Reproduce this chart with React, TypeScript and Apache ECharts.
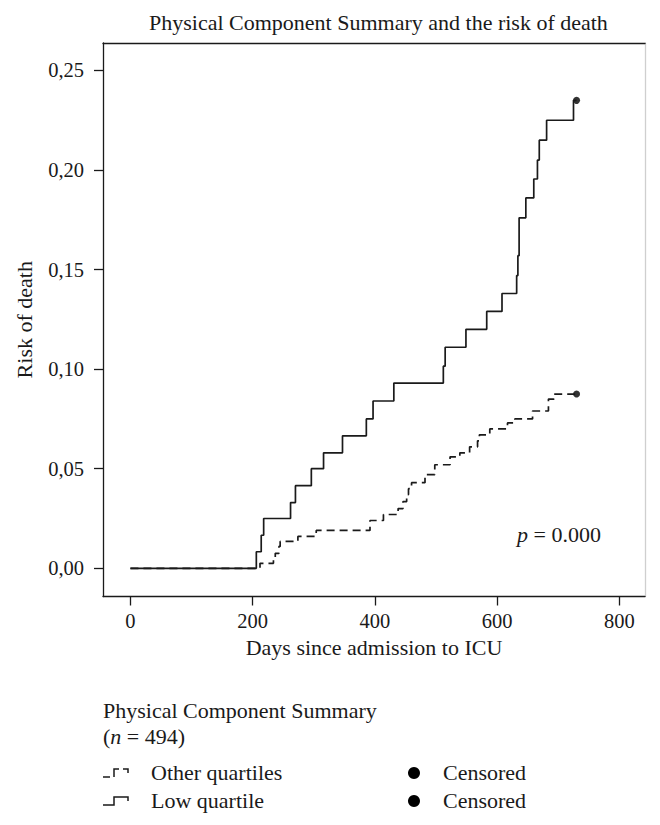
import React, { useEffect, useRef } from "react";
import * as echarts from "echarts";

// Low quartile (solid): day of each step and cumulative risk after it
const lowDays = [0, 206, 214, 218, 262, 270, 296, 316, 347, 386, 397, 431, 512, 515, 549, 583, 608, 632, 634, 636, 647, 660, 666, 669, 681, 725, 730];
const lowRisk = [0, 0.0083, 0.0166, 0.025, 0.033, 0.0415, 0.05, 0.058, 0.0665, 0.075, 0.084, 0.093, 0.1015, 0.111, 0.12, 0.129, 0.138, 0.147, 0.157, 0.176, 0.186, 0.1955, 0.205, 0.215, 0.225, 0.235, 0.235];

// Other quartiles (dashed)
const otherDays = [0, 212, 234, 237, 243, 245, 274, 304, 392, 414, 438, 446, 452, 455, 460, 482, 498, 523, 539, 555, 568, 571, 588, 617, 629, 658, 684, 693, 730];
const otherRisk = [0, 0.0025, 0.005, 0.0075, 0.011, 0.0135, 0.016, 0.019, 0.024, 0.027, 0.03, 0.0335, 0.037, 0.04, 0.043, 0.047, 0.052, 0.056, 0.058, 0.061, 0.064, 0.067, 0.07, 0.073, 0.075, 0.079, 0.085, 0.0875, 0.0875];

// Censored marks
const censorDays = [730, 730];
const censorRisk = [0.0875, 0.235];

const xTicks = [0, 200, 400, 600, 800];
const yTicks = [0, 0.05, 0.1, 0.15, 0.2, 0.25];

const FONT = "Liberation Serif";
const INK = "#1a1a1a";
const FS = 22;
const TICK_FS = 20.5;

export default function App() {
  const ref = useRef<HTMLDivElement>(null);
  useEffect(() => {
    if (!ref.current) return;
    const chart = echarts.init(ref.current, null, { renderer: "svg" });
    const zip = (a: number[], b: number[]) => a.map((v, i) => [v, b[i]]);
    const axisLine = { show: true, onZero: false, lineStyle: { color: INK, width: 1.3 } };
    const textBase = { fontFamily: FONT, fontSize: FS, fill: INK };
    const italic = { i: { fontStyle: "italic", fontFamily: FONT, fontSize: FS, color: INK } };
    chart.setOption({
      animation: false,
      backgroundColor: "#ffffff",
      title: {
        text: "Physical Component Summary and the risk of death",
        left: 144,
        top: 6,
        textStyle: { fontFamily: FONT, fontSize: FS, fontWeight: "normal", color: INK },
      },
      grid: { left: 103, right: 15, top: 43, bottom: 228.5, containLabel: false },
      xAxis: [
        {
          type: "value",
          min: -44.9,
          max: 842,
          position: "bottom",
          name: "Days since admission to ICU",
          nameLocation: "middle",
          nameGap: 35,
          nameTextStyle: { fontFamily: FONT, fontSize: FS, color: INK },
          axisLine,
          axisTick: { show: true, length: 9, lineStyle: { color: INK, width: 1.3 }, customValues: xTicks },
          axisLabel: { customValues: xTicks, fontFamily: FONT, fontSize: TICK_FS, color: INK, margin: 14 },
          splitLine: { show: false },
        },
        {
          type: "value",
          min: -44.9,
          max: 842,
          position: "top",
          axisLine,
          axisTick: { show: false },
          axisLabel: { show: false },
          splitLine: { show: false },
        },
      ],
      yAxis: [
        {
          type: "value",
          min: -0.01417,
          max: 0.2638,
          position: "left",
          name: "Risk of death",
          nameLocation: "middle",
          nameGap: 68,
          nameTextStyle: { fontFamily: FONT, fontSize: FS, color: INK },
          axisLine,
          axisTick: { show: true, length: 9, lineStyle: { color: INK, width: 1.3 }, customValues: yTicks },
          axisLabel: {
            customValues: yTicks,
            fontFamily: FONT,
            fontSize: TICK_FS,
            color: INK,
            margin: 19,
            formatter: (v: number) => v.toFixed(2).replace(".", ","),
          },
          splitLine: { show: false },
        },
        {
          type: "value",
          min: -0.01417,
          max: 0.2638,
          position: "right",
          axisLine: { show: true, onZero: false, lineStyle: { color: "#cfcfcf", width: 1.3 } },
          axisTick: { show: false },
          axisLabel: { show: false },
          splitLine: { show: false },
        },
      ],
      series: [
        {
          type: "line",
          step: "end",
          xAxisIndex: 0,
          yAxisIndex: 0,
          data: zip(otherDays, otherRisk),
          showSymbol: false,
          lineStyle: { color: INK, width: 1.7, type: [8, 5] },
        },
        {
          type: "line",
          step: "end",
          xAxisIndex: 0,
          yAxisIndex: 0,
          data: zip(lowDays, lowRisk),
          showSymbol: false,
          lineStyle: { color: INK, width: 1.7 },
        },
        {
          type: "scatter",
          xAxisIndex: 0,
          yAxisIndex: 0,
          data: zip(censorDays, censorRisk),
          symbol: "circle",
          symbolSize: 7,
          itemStyle: { color: "#000" },
        },
      ],
      graphic: [
        {
          type: "text",
          left: 517,
          top: 523,
          style: { text: "{i|p} = 0.000", ...textBase, rich: italic },
        },
        { type: "text", left: 103, top: 699, style: { text: "Physical Component Summary", ...textBase } },
        {
          type: "text",
          left: 103,
          top: 725,
          style: { text: "({i|n} = 494)", ...textBase, rich: italic },
        },
        // legend symbols
        { type: "polyline", shape: { points: [[103, 777], [110, 777]] }, style: { stroke: INK, lineWidth: 1.5, fill: null } },
        { type: "polyline", shape: { points: [[114, 777], [114, 769], [119, 769]] }, style: { stroke: INK, lineWidth: 1.5, fill: null } },
        { type: "polyline", shape: { points: [[123, 769], [128, 769], [128, 773]] }, style: { stroke: INK, lineWidth: 1.5, fill: null } },
        { type: "polyline", shape: { points: [[103, 805], [114, 805], [114, 797], [128, 797], [128, 801]] }, style: { stroke: INK, lineWidth: 1.5, fill: null } },
        { type: "text", left: 151, top: 761, style: { text: "Other quartiles", ...textBase } },
        { type: "text", left: 151, top: 789, style: { text: "Low quartile", ...textBase } },
        { type: "circle", shape: { cx: 414, cy: 773, r: 6 }, style: { fill: "#000" } },
        { type: "circle", shape: { cx: 414, cy: 801, r: 6 }, style: { fill: "#000" } },
        { type: "text", left: 443, top: 761, style: { text: "Censored", ...textBase } },
        { type: "text", left: 443, top: 789, style: { text: "Censored", ...textBase } },
      ],
    });
    return () => chart.dispose();
  }, []);
  return (
    <div
      ref={ref}
      style={{ position: "fixed", left: 0, top: 0, width: 660, height: 825, background: "#fff" }}
    />
  );
}
